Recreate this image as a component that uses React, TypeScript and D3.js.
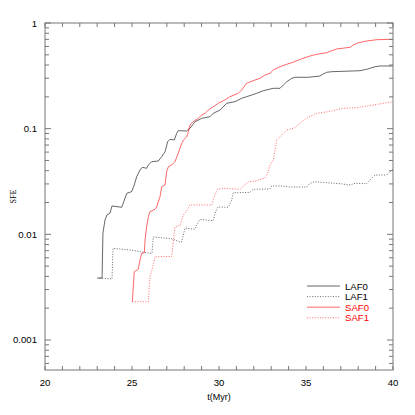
import React from 'react';
import * as d3 from 'd3';

const laf0T = [23.05, 23.28, 23.33, 23.45, 23.56, 23.74, 23.85, 24.41, 24.56, 24.70, 24.98, 25.13, 25.27, 25.46, 25.59, 25.84, 25.94, 26.13, 26.51, 26.71, 26.90, 27.05, 27.18, 27.43, 27.57, 27.66, 28.14, 28.33, 28.62, 29.01, 29.48, 29.67, 30.06, 30.44, 30.92, 31.30, 31.59, 32.17, 32.55, 33.12, 33.51, 33.70, 33.89, 34.18, 34.37, 35.13, 35.80, 35.99, 36.19, 36.48, 38.10, 38.49, 38.97, 39.25, 40.0];
const laf0V = [0.00386, 0.00386, 0.0103, 0.01367, 0.01525, 0.0159, 0.01855, 0.01803, 0.02113, 0.02445, 0.02534, 0.0293, 0.0351, 0.0406, 0.0431, 0.0422, 0.0453, 0.0487, 0.0494, 0.0543, 0.0605, 0.0753, 0.0793, 0.0781, 0.0904, 0.0957, 0.0951, 0.1008, 0.1164, 0.1253, 0.1298, 0.1397, 0.1501, 0.1738, 0.18, 0.1938, 0.2007, 0.2161, 0.2287, 0.241, 0.241, 0.259, 0.278, 0.2997, 0.3063, 0.3063, 0.315, 0.3292, 0.3416, 0.346, 0.3536, 0.3646, 0.3858, 0.3918, 0.3918];

const laf1T = [22.99, 23.85, 23.91, 24.89, 25.46, 26.03, 26.15, 26.22, 27.18, 27.47, 27.76, 27.85, 28.05, 28.62, 28.81, 28.91, 29.67, 29.77, 29.94, 30.53, 30.73, 30.82, 31.78, 31.97, 32.93, 33.03, 33.60, 33.98, 35.04, 35.23, 35.52, 36.19, 36.95, 37.53, 37.82, 38.49, 38.68, 38.97, 39.64, 39.83, 40.0];
const laf1V = [0.00386, 0.00378, 0.00738, 0.00711, 0.00685, 0.00662, 0.00662, 0.00944, 0.00913, 0.00884, 0.00846, 0.00846, 0.01148, 0.01116, 0.01317, 0.01381, 0.01346, 0.01582, 0.01815, 0.01803, 0.02113, 0.02478, 0.02489, 0.02668, 0.02685, 0.02868, 0.02868, 0.02805, 0.02805, 0.03041, 0.03148, 0.0308, 0.03014, 0.0293, 0.03041, 0.03014, 0.03267, 0.03643, 0.03643, 0.03915, 0.04125];

const saf0T = [25.02, 25.13, 25.36, 25.46, 25.56, 25.71, 25.75, 25.84, 25.94, 26.03, 26.32, 26.42, 26.61, 26.71, 26.90, 26.99, 27.09, 27.28, 27.47, 27.66, 27.86, 27.96, 28.14, 28.24, 28.33, 28.52, 28.81, 29.01, 29.20, 29.39, 29.67, 29.96, 30.34, 30.63, 31.11, 31.30, 31.59, 32.07, 32.36, 32.64, 32.93, 33.12, 33.51, 33.89, 34.18, 34.47, 34.84, 35.23, 35.61, 36.19, 36.48, 36.76, 37.53, 37.72, 38.01, 38.49, 39.06, 40.0];
const saf0V = [0.002304, 0.00443, 0.00467, 0.00572, 0.00662, 0.0067, 0.00884, 0.0118, 0.01469, 0.01638, 0.01726, 0.01827, 0.0227, 0.02823, 0.0293, 0.03915, 0.04366, 0.0453, 0.0487, 0.0585, 0.0727, 0.0781, 0.0834, 0.0936, 0.1083, 0.1164, 0.1253, 0.1347, 0.1397, 0.1501, 0.1614, 0.1738, 0.1868, 0.2007, 0.2161, 0.2323, 0.2688, 0.2888, 0.2997, 0.3219, 0.3342, 0.359, 0.3858, 0.4066, 0.421, 0.4397, 0.4634, 0.4872, 0.5056, 0.5235, 0.5469, 0.5675, 0.5888, 0.619, 0.651, 0.6755, 0.695, 0.701];

const saf1T = [25.02, 25.94, 26.03, 26.15, 26.32, 27.28, 27.47, 27.76, 27.95, 28.10, 28.33, 29.58, 29.77, 29.94, 30.16, 31.21, 31.67, 31.78, 32.13, 32.26, 32.64, 32.82, 32.93, 33.12, 33.22, 33.32, 33.51, 33.89, 34.37, 34.75, 35.13, 35.61, 36.26, 37.14, 37.91, 38.87, 40.0];
const saf1V = [0.002304, 0.002304, 0.00397, 0.0046, 0.00614, 0.00617, 0.0118, 0.01213, 0.01524, 0.01628, 0.01895, 0.01895, 0.02393, 0.02685, 0.02727, 0.02668, 0.03128, 0.03148, 0.03197, 0.03267, 0.03413, 0.0389, 0.0453, 0.0505, 0.0628, 0.0781, 0.0839, 0.0971, 0.1021, 0.1164, 0.1281, 0.1397, 0.1447, 0.1559, 0.1579, 0.1675, 0.18];

const seriesNames = ['LAF0', 'LAF1', 'SAF0', 'SAF1'];
const xTickValues = [20, 25, 30, 35, 40];
const yTickValues = [1, 0.1, 0.01, 0.001];
const yTickLabels = ['1', '0.1', '0.01', '0.001'];
const xDomain = [20, 40];
const yDomain = [0.00052, 1];

export default function App() {
  const W = 415, H = 415;
  const left = 45, right = 393, top = 23, bottom = 370;
  const x = d3.scaleLinear().domain(xDomain).range([left, right]);
  const y = d3.scaleLog().domain(yDomain).range([bottom, top]);
  const line = d3.line<[number, number]>().x(d => x(d[0])).y(d => y(d[1]));
  const zip = (t: number[], v: number[]) => t.map((tt, i) => [tt, v[i]] as [number, number]);

  const series = [
    { name: seriesNames[0], data: zip(laf0T, laf0V), color: '#000', dash: undefined },
    { name: seriesNames[1], data: zip(laf1T, laf1V), color: '#000', dash: '1,1.6' },
    { name: seriesNames[2], data: zip(saf0T, saf0V), color: '#ff0000', dash: undefined },
    { name: seriesNames[3], data: zip(saf1T, saf1V), color: '#ff0000', dash: '1,1.6' },
  ];

  const xMinor = d3.range(xDomain[0], xDomain[1] + 1, 1);
  const yMinor: number[] = [];
  for (let k = -4; k <= 0; k++) {
    for (let m = 2; m <= 9; m++) {
      const v = m * Math.pow(10, k);
      if (v >= yDomain[0] && v <= yDomain[1]) yMinor.push(v);
    }
  }
  const axisColor = '#777';
  const font = 'Liberation Sans, Arial, sans-serif';

  return (
    <svg width={W} height={H} style={{ position: 'absolute', left: 0, top: 0, background: '#fff' }}>
      <rect x={0} y={0} width={W} height={H} fill="#fff" />
      {series.map(s => (
        <path key={s.name} d={line(s.data) || ''} fill="none" stroke={s.color} strokeWidth={0.8}
          strokeDasharray={s.dash} strokeOpacity={0.75} />
      ))}
      <rect x={left} y={top} width={right - left} height={bottom - top} fill="none" stroke={axisColor} strokeWidth={1} />
      {xMinor.map(v => (
        <g key={'xt' + v}>
          <line x1={x(v)} x2={x(v)} y1={bottom} y2={bottom - 4} stroke={axisColor} />
          <line x1={x(v)} x2={x(v)} y1={top} y2={top + 4} stroke={axisColor} />
        </g>
      ))}
      {yMinor.map(v => (
        <g key={'ym' + v}>
          <line x1={left} x2={left + 4} y1={y(v)} y2={y(v)} stroke={axisColor} />
          <line x1={right} x2={right - 4} y1={y(v)} y2={y(v)} stroke={axisColor} />
        </g>
      ))}
      {yTickValues.map(v => (
        <g key={'yM' + v}>
          <line x1={left} x2={left + 6} y1={y(v)} y2={y(v)} stroke={axisColor} />
          <line x1={right} x2={right - 6} y1={y(v)} y2={y(v)} stroke={axisColor} />
        </g>
      ))}
      {xTickValues.map(v => (
        <text key={'xl' + v} x={x(v)} y={bottom + 16} textAnchor="middle" fontFamily={font} fontSize={9.6} fill="#000">{v}</text>
      ))}
      {yTickValues.map((v, i) => (
        <text key={'yl' + v} x={left - 8} y={y(v) + 3.5} textAnchor="end" fontFamily={font} fontSize={9.6} fill="#000">{yTickLabels[i]}</text>
      ))}
      <text x={(left + right) / 2} y={400} textAnchor="middle" fontFamily={font} fontSize={9} fill="#000">t(Myr)</text>
      <text transform={`translate(16,${(top + bottom) / 2}) rotate(-90)`} textAnchor="middle" fontFamily="Liberation Serif, serif" fontSize={8} fill="#000">SFE</text>
      {series.map((s, i) => {
        const ly = 286 + i * 10.6;
        return (
          <g key={'lg' + s.name}>
            <line x1={307} x2={340} y1={ly} y2={ly} stroke={s.color} strokeWidth={0.8} strokeDasharray={s.dash} strokeOpacity={0.75} />
            <text x={345} y={ly + 3.5} fontFamily={font} fontSize={9.6} fill={s.color}>{s.name}</text>
          </g>
        );
      })}
    </svg>
  );
}
